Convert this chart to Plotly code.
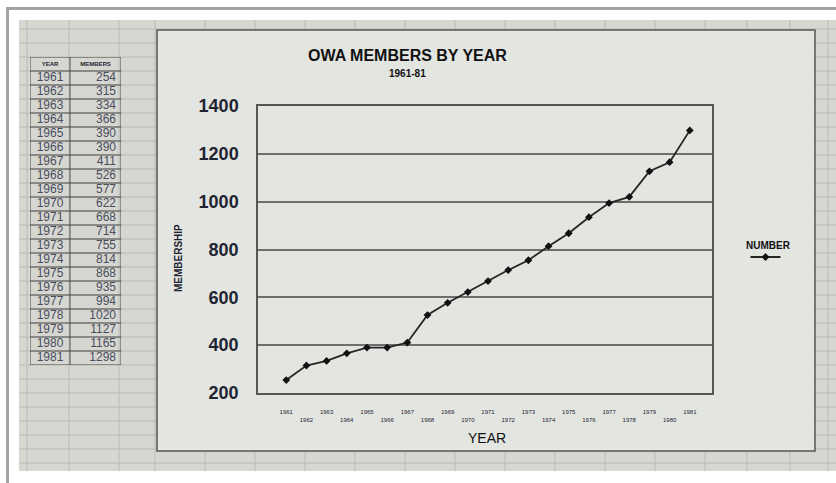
import plotly.graph_objects as go

W, H = 836, 483

years = list(range(1961, 1982))
members = [254, 315, 334, 366, 390, 390, 411, 526, 577, 622, 668,
           714, 755, 814, 868, 935, 994, 1020, 1127, 1165, 1298]
y_ticks = [200, 400, 600, 800, 1000, 1200, 1400]
x_ticktext = [str(y) if y % 2 == 1 else "<br>" + str(y) for y in years]
table_headers = ["YEAR", "MEMBERS"]

title_text = "OWA MEMBERS BY YEAR"
subtitle_text = "1961-81"
series_name = "NUMBER"


def px(x):
    return x / W


def py(y):
    return 1 - y / H


SHEET = "#d6d7d1"
CHART_BG = "#e3e5e1"
GRID_SHEET = "#b9bab5"
INK = "#1f2433"
FONT = "Liberation Sans, Arial"

shapes = []
# photo / spreadsheet area
shapes.append(dict(type="rect", xref="paper", yref="paper", x0=px(19), x1=px(836),
                   y0=py(471), y1=py(20), fillcolor=SHEET, line=dict(width=0), layer="below"))
# spreadsheet grid lines (decoration)
for gx in [27, 69, 119, 155, 205, 255, 305, 355, 405, 455, 505, 555, 605, 655, 705, 747, 790, 828]:
    shapes.append(dict(type="line", xref="paper", yref="paper", x0=px(gx), x1=px(gx),
                       y0=py(471), y1=py(20), line=dict(color=GRID_SHEET, width=1), layer="below"))
gy = 29
while gy < 471:
    shapes.append(dict(type="line", xref="paper", yref="paper", x0=px(19), x1=px(836),
                       y0=py(gy), y1=py(gy), line=dict(color=GRID_SHEET, width=1), layer="below"))
    gy += 14
# chart frame
shapes.append(dict(type="rect", xref="paper", yref="paper", x0=px(157), x1=px(815),
                   y0=py(451), y1=py(30), fillcolor=CHART_BG,
                   line=dict(color="#555555", width=1.5), layer="below"))
# outer grey bands
shapes.append(dict(type="rect", xref="paper", yref="paper", x0=px(6), x1=px(836),
                   y0=py(10), y1=py(7), fillcolor="#a3a3a3", line=dict(width=0), layer="below"))
shapes.append(dict(type="rect", xref="paper", yref="paper", x0=px(6), x1=px(9),
                   y0=py(483), y1=py(7), fillcolor="#a3a3a3", line=dict(width=0), layer="below"))

# table grid (in table axis units: x in px-like units 0..91, y in row index)
n_rows = len(years)
for r in range(-1, n_rows + 1):
    shapes.append(dict(type="line", xref="x2", yref="y2", x0=0, x1=91, y0=r - 0.5, y1=r - 0.5,
                       line=dict(color="#4a4a4a", width=1)))
for cx in [0, 40, 91]:
    shapes.append(dict(type="line", xref="x2", yref="y2", x0=cx, x1=cx, y0=-1.5, y1=n_rows - 0.5,
                       line=dict(color="#4a4a4a", width=1)))

fig = go.Figure()

fig.add_trace(go.Scatter(
    x=years, y=members, mode="lines+markers", name="",
    line=dict(color="#262626", width=1.8),
    marker=dict(symbol="diamond", size=6, color="#111111"),
    showlegend=True,
))

rows = list(range(n_rows))
# table: year column
fig.add_trace(go.Scatter(
    x=[20] * n_rows, y=rows, text=[str(y) for y in years], mode="text",
    textposition="middle center", xaxis="x2", yaxis="y2", showlegend=False,
    textfont=dict(family=FONT, size=12, color="#4a4d5e"), hoverinfo="skip",
))
# table: members column
fig.add_trace(go.Scatter(
    x=[86] * n_rows, y=rows, text=[str(m) for m in members], mode="text",
    textposition="middle left", xaxis="x2", yaxis="y2", showlegend=False,
    textfont=dict(family=FONT, size=12, color="#4a4d5e"), hoverinfo="skip",
))
# table: header
fig.add_trace(go.Scatter(
    x=[20, 65.5], y=[-1, -1], text=[f"<b>{h}</b>" for h in table_headers], mode="text",
    textposition="middle center", xaxis="x2", yaxis="y2", showlegend=False,
    textfont=dict(family=FONT, size=6, color=INK), hoverinfo="skip",
))

annotations = [
    dict(text=f"<b>{title_text}</b>", x=px(407), y=py(55), xref="paper", yref="paper",
         showarrow=False, font=dict(family=FONT, size=16, color="#111111"),
         xanchor="center", yanchor="middle"),
    dict(text=f"<b>{subtitle_text}</b>", x=px(407), y=py(73), xref="paper", yref="paper",
         showarrow=False, font=dict(family=FONT, size=10, color="#111111"),
         xanchor="center", yanchor="middle"),
    dict(text="<b>MEMBERSHIP</b>", x=px(178), y=py(258), xref="paper", yref="paper",
         showarrow=False, textangle=-90,
         font=dict(family=FONT, size=10, color=INK),
         xanchor="center", yanchor="middle"),
    dict(text="YEAR", x=px(487), y=py(438), xref="paper", yref="paper",
         showarrow=False, font=dict(family=FONT, size=14, color="#111111"),
         xanchor="center", yanchor="middle"),
    dict(text=f"<b>{series_name}</b>", x=px(768), y=py(246), xref="paper", yref="paper",
         showarrow=False, font=dict(family=FONT, size=10, color="#111111"),
         xanchor="center", yanchor="middle"),
]

fig.update_layout(
    width=W, height=H,
    margin=dict(l=0, r=0, t=0, b=0, pad=0, autoexpand=False),
    paper_bgcolor="white",
    plot_bgcolor="rgba(0,0,0,0)",
    shapes=shapes,
    annotations=annotations,
    showlegend=True,
    legend=dict(
        x=px(768), xanchor="center", y=py(257), yanchor="middle",
        bgcolor="rgba(0,0,0,0)", itemwidth=30,
        font=dict(size=2),
    ),
    xaxis=dict(
        domain=[px(258), px(712)],
        range=[1959.6, 1982.1],
        tickvals=years, ticktext=x_ticktext,
        tickfont=dict(family=FONT, size=6, color=INK),
        ticks="outside", ticklen=12, tickcolor="rgba(0,0,0,0)",
        showgrid=False, zeroline=False, automargin=False,
        showline=True, mirror=True, linecolor="#555555", linewidth=1.5,
        fixedrange=True,
    ),
    yaxis=dict(
        domain=[py(393), py(106)],
        range=[200, 1400],
        tickvals=y_ticks,
        tickfont=dict(family=FONT, size=18, color=INK, weight="bold"),
        ticks="outside", ticklen=14, tickcolor="rgba(0,0,0,0)",
        showgrid=True, gridcolor="#6e6e6e", gridwidth=1.5,
        zeroline=False, automargin=False,
        showline=True, mirror=True, linecolor="#555555", linewidth=1.5,
        fixedrange=True,
    ),
    xaxis2=dict(
        domain=[px(30), px(121)], range=[0, 91], anchor="y2",
        visible=False, fixedrange=True,
    ),
    yaxis2=dict(
        domain=[py(365), py(57)], range=[n_rows - 0.5, -1.5], anchor="x2",
        visible=False, fixedrange=True,
    ),
)

fig.write_html("out.html")
